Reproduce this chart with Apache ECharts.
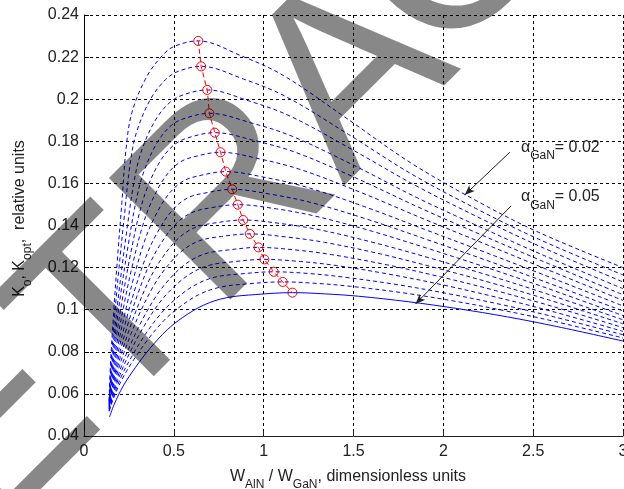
<!DOCTYPE html>
<html><head><meta charset="utf-8">
<script src="https://cdn.jsdelivr.net/npm/echarts@6/dist/echarts.min.js"></script>
<style>html,body{margin:0;padding:0;background:#fff}#c{width:624px;height:489px}</style>
</head><body><div id="c"></div>
<script>
// alpha_GaN = 0.020 ... 0.050 (step 0.002); points [W_AlN/W_GaN, K]
const a020 = [[0.14,0.057],[0.1474,0.0741],[0.1658,0.0997],[0.1871,0.1253],[0.2109,0.1509],[0.2342,0.1765],[0.2665,0.1936],[0.3483,0.2106],[0.4376,0.2209],[0.5021,0.2251],[0.636,0.2277],[0.8724,0.2207],[1.1088,0.2113],[1.4634,0.1908],[1.818,0.1698],[2.1726,0.1523],[2.5272,0.1369],[3,0.12]];
const a022 = [[0.14,0.0565],[0.1491,0.0724],[0.1698,0.0963],[0.1951,0.1201],[0.2239,0.1440],[0.2546,0.1679],[0.2907,0.1838],[0.3682,0.1997],[0.4527,0.2092],[0.5235,0.2132],[0.652,0.2156],[0.8868,0.2096],[1.1216,0.2013],[1.4738,0.1832],[1.826,0.1643],[2.1782,0.1482],[2.5304,0.1335],[3,0.1165]];
const a024 = [[0.14,0.0559],[0.1508,0.0708],[0.1744,0.0930],[0.2042,0.1153],[0.2383,0.1376],[0.2765,0.1599],[0.3172,0.1747],[0.3942,0.1896],[0.4781,0.1985],[0.5569,0.2022],[0.686,0.2044],[0.9174,0.1992],[1.1488,0.1919],[1.4959,0.1759],[1.843,0.1591],[2.1901,0.1441],[2.5372,0.1301],[3,0.1132]];
const a026 = [[0.14,0.0554],[0.1519,0.0692],[0.1772,0.0899],[0.2097,0.1106],[0.2471,0.1312],[0.2904,0.1519],[0.3337,0.1657],[0.4081,0.1795],[0.4890,0.1878],[0.5722,0.1912],[0.698,0.1933],[0.9282,0.1888],[1.1584,0.1824],[1.5037,0.1685],[1.849,0.1534],[2.1943,0.1397],[2.5396,0.1265],[3,0.11]];
const a028 = [[0.14,0.055],[0.1532,0.0679],[0.1807,0.0873],[0.2166,0.1066],[0.2581,0.1260],[0.3069,0.1454],[0.3539,0.1583],[0.4289,0.1712],[0.5104,0.1789],[0.6001,0.1822],[0.728,0.1841],[0.9552,0.1802],[1.1824,0.1746],[1.5232,0.1622],[1.864,0.1486],[2.2048,0.1358],[2.5456,0.1233],[3,0.1071]];
const a030 = [[0.14,0.0545],[0.1544,0.0665],[0.1841,0.0846],[0.2231,0.1026],[0.2684,0.1207],[0.3223,0.1387],[0.3729,0.1507],[0.4494,0.1628],[0.5326,0.1700],[0.6287,0.1730],[0.76,0.1748],[0.984,0.1715],[1.208,0.1665],[1.544,0.1556],[1.88,0.1435],[2.216,0.1318],[2.552,0.1200],[3,0.1044]];
const a032 = [[0.14,0.0541],[0.1555,0.0653],[0.1871,0.0820],[0.2288,0.0987],[0.2773,0.1154],[0.3355,0.1322],[0.3892,0.1433],[0.4675,0.1545],[0.5525,0.1611],[0.6542,0.1639],[0.789,0.1656],[1.0101,0.1628],[1.2312,0.1584],[1.5629,0.1489],[1.8945,0.1382],[2.2262,0.1275],[2.5578,0.1166],[3,0.1018]];
const a034 = [[0.14,0.0538],[0.1566,0.0641],[0.1903,0.0797],[0.2351,0.0952],[0.2871,0.1107],[0.3499,0.1262],[0.4072,0.1365],[0.4883,0.1469],[0.5765,0.1531],[0.6847,0.1556],[0.825,0.1572],[1.0425,0.1548],[1.26,0.1510],[1.5863,0.1427],[1.9125,0.1332],[2.2388,0.1235],[2.565,0.1133],[3,0.0994]];
const a036 = [[0.14,0.0534],[0.1576,0.0631],[0.193,0.0775],[0.2402,0.0920],[0.2952,0.1065],[0.3618,0.1210],[0.4220,0.1306],[0.5059,0.1403],[0.5970,0.1460],[0.7107,0.1485],[0.856,0.1499],[1.0704,0.1479],[1.2848,0.1445],[1.6064,0.1372],[1.928,0.1287],[2.2496,0.1198],[2.5712,0.1104],[3,0.0972]];
const a038 = [[0.14,0.0531],[0.1585,0.0621],[0.1955,0.0755],[0.2451,0.0889],[0.3028,0.1023],[0.3728,0.1158],[0.4358,0.1247],[0.5225,0.1337],[0.6167,0.1390],[0.7355,0.1413],[0.886,0.1426],[1.0974,0.1409],[1.3088,0.1380],[1.6259,0.1316],[1.943,0.1241],[2.2601,0.1161],[2.5772,0.1075],[3,0.0952]];
const a040 = [[0.14,0.0528],[0.1595,0.0611],[0.1985,0.0736],[0.2507,0.0861],[0.3115,0.0986],[0.3854,0.1110],[0.4517,0.1194],[0.5423,0.1277],[0.6407,0.1327],[0.7657,0.1348],[0.923,0.136],[1.1307,0.1345],[1.3384,0.1320],[1.65,0.1265],[1.9615,0.1198],[2.273,0.1126],[2.5846,0.1047],[3,0.0933]];
const a042 = [[0.14,0.0525],[0.1608,0.0602],[0.2023,0.0718],[0.258,0.0833],[0.3228,0.0949],[0.4018,0.1065],[0.4724,0.1142],[0.568,0.1219],[0.6718,0.1265],[0.8048,0.1284],[0.971,0.1296],[1.1739,0.1284],[1.3768,0.1262],[1.6812,0.1214],[1.9855,0.1156],[2.2899,0.1091],[2.5942,0.1019],[3,0.0915]];
const a044 = [[0.14,0.0522],[0.1616,0.0594],[0.2048,0.0701],[0.2627,0.0809],[0.3301,0.0916],[0.4122,0.1024],[0.4856,0.1096],[0.585,0.1167],[0.693,0.1210],[0.8312,0.1228],[1.004,0.1239],[1.2036,0.1229],[1.4032,0.1210],[1.7026,0.1168],[2.002,0.1117],[2.3014,0.1058],[2.6008,0.0993],[3,0.0897]];
const a046 = [[0.14,0.052],[0.1629,0.0586],[0.2087,0.0685],[0.2701,0.0784],[0.3415,0.0883],[0.4285,0.0982],[0.5064,0.1048],[0.6117,0.1114],[0.7262,0.1154],[0.8728,0.1170],[1.056,0.118],[1.2504,0.1172],[1.4448,0.1155],[1.7364,0.1120],[2.028,0.1076],[2.3196,0.1025],[2.6112,0.0967],[3,0.0881]];
const a048 = [[0.14,0.0517],[0.1642,0.0579],[0.2125,0.0671],[0.2772,0.0763],[0.3525,0.0855],[0.4443,0.0948],[0.5264,0.1009],[0.6375,0.1071],[0.7582,0.1107],[0.9128,0.1123],[1.106,0.1132],[1.2954,0.1125],[1.4848,0.1111],[1.7689,0.1081],[2.053,0.1042],[2.3371,0.0996],[2.6212,0.0944],[3,0.0866]];
const a050 = [[0.142,0.049],[0.1675,0.0549],[0.2184,0.0638],[0.2866,0.0726],[0.366,0.0815],[0.4627,0.0904],[0.5492,0.0963],[0.6663,0.1022],[0.7935,0.1057],[0.9564,0.1072],[1.16,0.1081],[1.344,0.1075],[1.528,0.1064],[1.804,0.1038],[2.08,0.1005],[2.356,0.0966],[2.632,0.0920],[3,0.0851]];

// optimum points (red circles)
const peakX = [0.636,0.652,0.686,0.698,0.728,0.760,0.789,0.825,0.856,0.886,0.923,0.971,1.004,1.056,1.106,1.160];
const peakY = [0.2277,0.2156,0.2044,0.1933,0.1841,0.1748,0.1656,0.1572,0.1499,0.1426,0.1360,0.1296,0.1239,0.1180,0.1132,0.1081];

const annotationValues = ['0.02','0.05'];

const curves = [a020,a022,a024,a026,a028,a030,a032,a034,a036,a038,a040,a042,a044,a046,a048,a050];
const FONT = '"Liberation Sans", Arial, Helvetica, sans-serif';
const TXT = '#222';

const chart = echarts.init(document.getElementById('c'), null, {renderer:'canvas'});
const series = curves.map((d,i)=>({
  type:'line', data:d, smooth:0.35, symbol:'none', silent:true, animation:false, z:2,
  lineStyle:{color:'#0000ff', width:1, type: i===curves.length-1 ? 'solid' : [4,3]}
}));
series.push({
  type:'line', data: peakX.map((x,i)=>[x,peakY[i]]), symbol:'circle', symbolSize:9, showSymbol:true,
  silent:true, animation:false, z:3,
  itemStyle:{color:'rgba(255,255,255,0)', borderColor:'#ff0000', borderWidth:1},
  lineStyle:{color:'#ff0000', width:1, type:[5,3]}
});
const last = series[curves.length-1];
last.markLine = {
  silent:true, animation:false, symbol:['none','arrow'], symbolSize:[6,10],
  lineStyle:{color:'#222', width:1, type:'solid'}, label:{show:false},
  data:[
    [{coord:[2.370,0.1748]},{coord:[2.119,0.1545]}],
    [{coord:[2.377,0.1493]},{coord:[1.845,0.1027]}]
  ]
};
last.markPoint = {
  silent:true, animation:false, symbol:'circle', symbolSize:1, itemStyle:{color:'rgba(0,0,0,0)'},
  label:{show:true, position:'right', distance:0, color:TXT, fontFamily:FONT, fontSize:16,
    formatter: p => '{m|α}{s|GaN}{m|= ' + p.name + '}',
    rich:{m:{fontSize:16, fontFamily:FONT, color:TXT}, s:{fontSize:12, fontFamily:FONT, color:TXT, padding:[17,0,0,0]}}},
  data:[{name:annotationValues[0], coord:[2.429,0.1771]},{name:annotationValues[1], coord:[2.429,0.1535]}]
};

const WM_FONT = '250px "Liberation Sans", Arial, sans-serif';
const WM_FILL = 'rgba(0,0,0,0.465)';
function wm(text, x, y){
  return {type:'text', x:x, y:y, rotation:Math.PI/4, z:100, silent:true,
    style:{text:text, font:WM_FONT, fill:WM_FILL, textAlign:'left', textVerticalAlign:'middle', align:'left', verticalAlign:'middle'}};
}

const option = {
  backgroundColor:'#fff',
  animation:false,
  grid:{left:84, right:1, top:15, bottom:53, containLabel:false, outerBoundsMode:'none'},
  xAxis:{
    type:'value', min:0, max:3, interval:0.5,
    name:'{m|W}{s|AlN}{m| / W}{s|GaN}{m|, dimensionless units}', nameLocation:'middle', nameGap:26,
    nameTextStyle:{fontFamily:FONT, fontSize:16, color:TXT, padding:[0,11,0,0],
      rich:{m:{fontSize:16, fontFamily:FONT, color:TXT}, s:{fontSize:12, fontFamily:FONT, color:TXT, padding:[17,0,0,0]}}},
    axisLine:{show:true, onZero:false, lineStyle:{color:'#222', width:1}},
    axisTick:{show:true, inside:true, length:5, lineStyle:{color:'#222'}},
    axisLabel:{show:true, margin:8, fontFamily:FONT, fontSize:16, color:TXT, showMaxLabel:true, showMinLabel:true},
    splitLine:{show:true, lineStyle:{color:'#000', width:1, type:[3,3]}}
  },
  yAxis:{
    type:'value', min:0.04, max:0.24, interval:0.02,
    name:'{m|K}{s|o}{m|, K}{s|opt}{m|,  relative units}', nameLocation:'middle', nameGap:50,
    nameTextStyle:{fontFamily:FONT, fontSize:16, color:TXT, padding:[0,0,0,14],
      rich:{m:{fontSize:16, fontFamily:FONT, color:TXT}, s:{fontSize:12, fontFamily:FONT, color:TXT, padding:[17,0,0,0]}}},
    axisLine:{show:true, onZero:false, lineStyle:{color:'#000', width:1}},
    axisTick:{show:true, inside:true, length:5, lineStyle:{color:'#000'}},
    axisLabel:{show:true, margin:5, fontFamily:FONT, fontSize:16, color:TXT, showMaxLabel:true, showMinLabel:true},
    splitLine:{show:true, lineStyle:{color:'#000', width:1, type:[3,3]}}
  },
  graphic:[ wm('RETRA', -186.4, 618.7), wm('CTED', 390.7, 19.6) ],
  series: series
};
chart.setOption(option);
</script>
</body></html>
